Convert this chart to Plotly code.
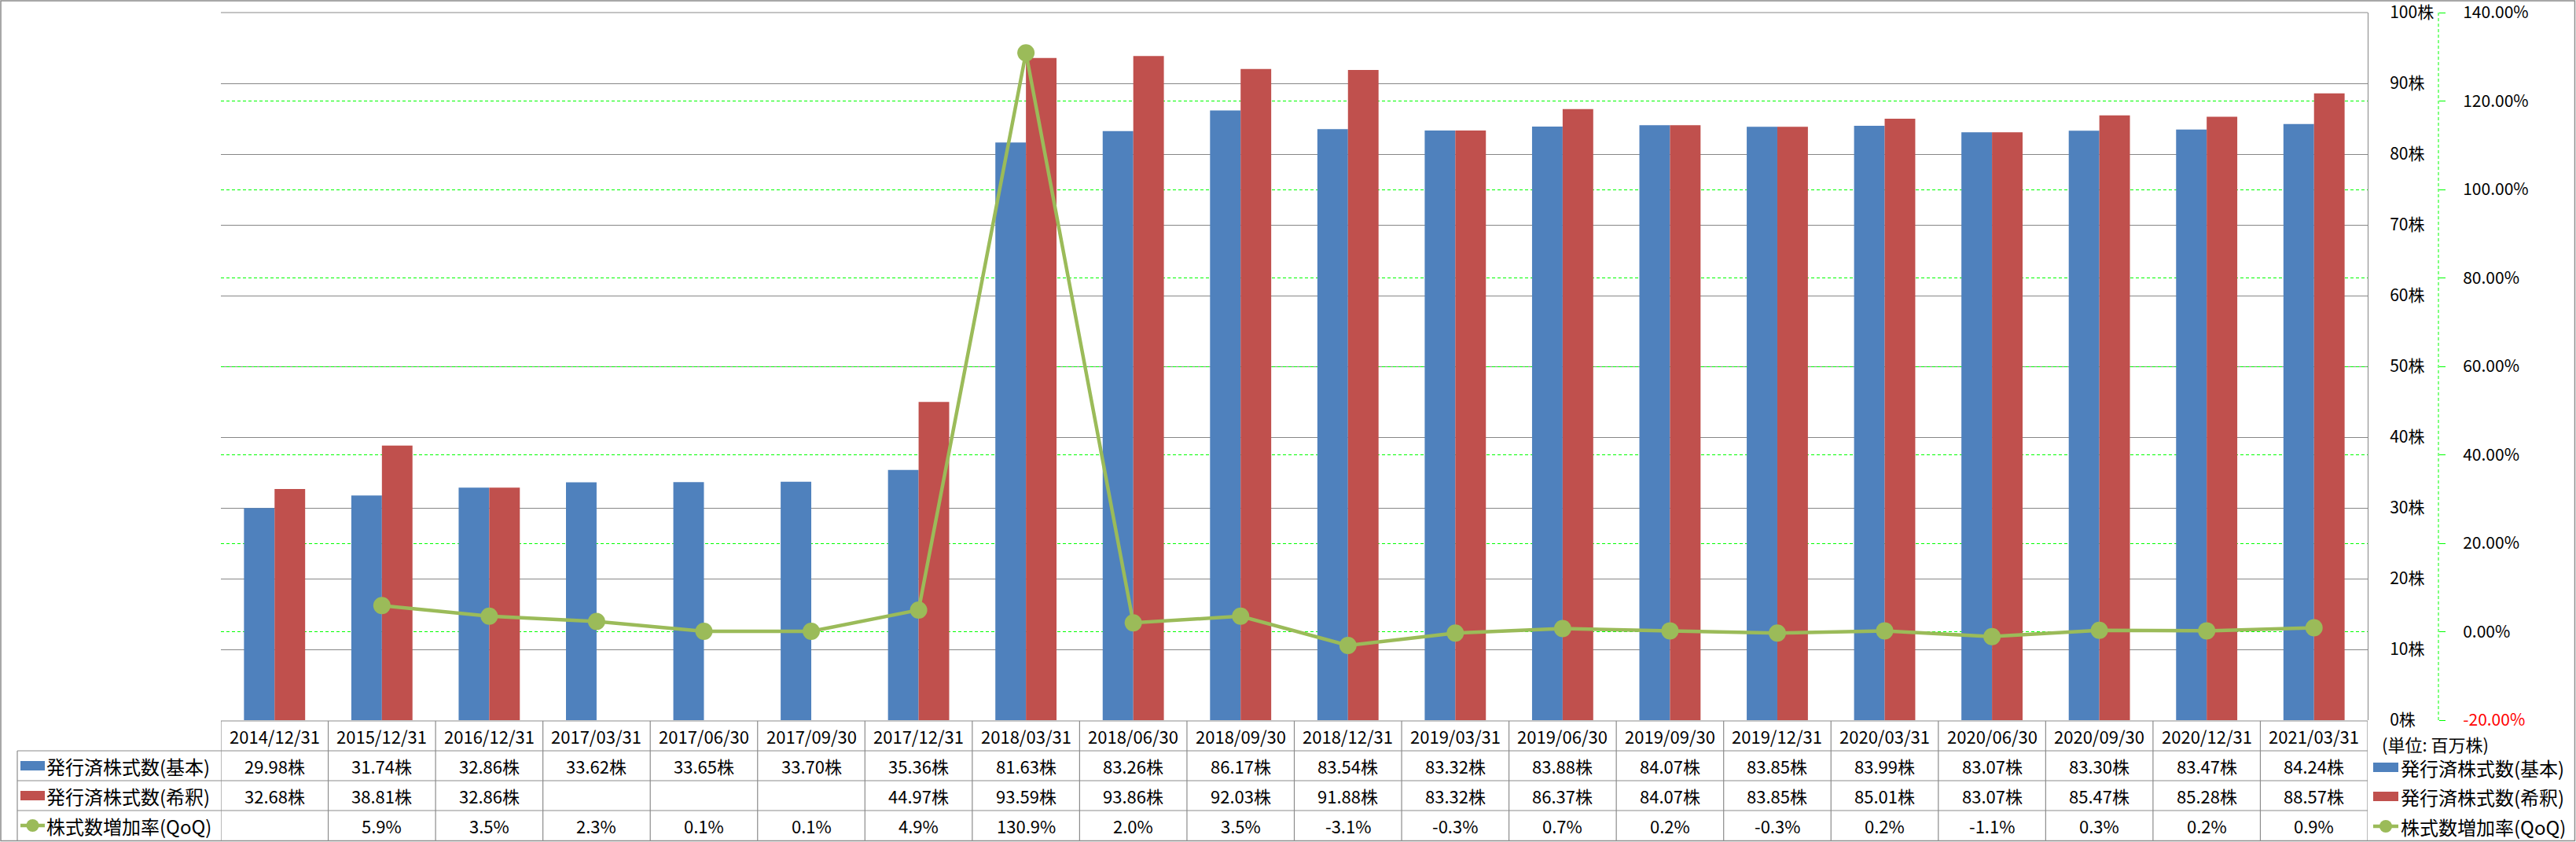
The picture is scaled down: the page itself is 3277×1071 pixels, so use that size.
import plotly.graph_objects as go

dates = ["2014/12/31", "2015/12/31", "2016/12/31", "2017/03/31", "2017/06/30",
         "2017/09/30", "2017/12/31", "2018/03/31", "2018/06/30", "2018/09/30",
         "2018/12/31", "2019/03/31", "2019/06/30", "2019/09/30", "2019/12/31",
         "2020/03/31", "2020/06/30", "2020/09/30", "2020/12/31", "2021/03/31"]
basic = [29.98, 31.74, 32.86, 33.62, 33.65, 33.70, 35.36, 81.63, 83.26, 86.17,
         83.54, 83.32, 83.88, 84.07, 83.85, 83.99, 83.07, 83.30, 83.47, 84.24]
diluted = [32.68, 38.81, 32.86, None, None, None, 44.97, 93.59, 93.86, 92.03,
           91.88, 83.32, 86.37, 84.07, 83.85, 85.01, 83.07, 85.47, 85.28, 88.57]
qoq = [None, 5.9, 3.5, 2.3, 0.1, 0.1, 4.9, 130.9, 2.0, 3.5,
       -3.1, -0.3, 0.7, 0.2, -0.3, 0.2, -1.1, 0.3, 0.2, 0.9]

names = ["発行済株式数(基本)", "発行済株式数(希釈)", "株式数増加率(QoQ)"]
y1_ticks = list(range(0, 101, 10))
y1_text = [f"{v}株" for v in y1_ticks]
y2_ticks = list(range(-20, 141, 20))
y2_text = [f'<span style="color:#FF0000">{v:.2f}%</span>' if v < 0 else f"{v:.2f}%" for v in y2_ticks]
unit_note = "(単位: 百万株)"

W, H = 3277, 1071
L, RE, T, BE = 281, 3102, 16, 916
PLOT_R = 3012
PW = RE - L
PH = BE - T


def px(x):
    return (x - L) / PW


def py(y):
    return (BE - y) / PH


BLUE = "#4F81BD"
RED = "#C0504D"
GREEN = "#9BBB59"
GRID = "#878787"
LINE = "#8C8C8C"
FONT = "Noto Sans CJK JP"
FS = 22
LFS = 24

fig = go.Figure()
fig.add_trace(go.Bar(x=dates, y=basic, name=names[0], marker=dict(color=BLUE, line=dict(width=0))))
fig.add_trace(go.Bar(x=dates, y=diluted, name=names[1], marker=dict(color=RED, line=dict(width=0))))
fig.add_trace(go.Scatter(x=dates, y=qoq, name=names[2], yaxis="y2", mode="lines+markers",
                         line=dict(color=GREEN, width=4.5), marker=dict(size=22, color=GREEN)))

shapes = []
annotations = []

# outer border
shapes.append(dict(type="rect", xref="paper", yref="paper", x0=px(1), x1=px(W - 1.5), y0=py(1), y1=py(H - 1.5),
                   line=dict(color=LINE, width=1.5), fillcolor="rgba(0,0,0,0)", layer="below"))

# top gridline of plot area
shapes.append(dict(type="line", xref="paper", yref="paper", x0=0, x1=px(PLOT_R), y0=1, y1=1,
                   line=dict(color=GRID, width=1), layer="below"))

# secondary axis dashed line
shapes.append(dict(type="line", xref="paper", yref="paper", x0=1, x1=1, y0=0, y1=1,
                   line=dict(color="#00FF00", width=1, dash="4px,3px")))

# table horizontal lines
shapes.append(dict(type="line", xref="paper", yref="paper", x0=px(L), x1=px(PLOT_R), y0=py(917), y1=py(917),
                   line=dict(color=LINE, width=1.2)))
for yy in [955, 993, 1031, 1069.5]:
    shapes.append(dict(type="line", xref="paper", yref="paper", x0=px(22), x1=px(PLOT_R), y0=py(yy), y1=py(yy),
                       line=dict(color=LINE, width=1.2)))
# table vertical lines
shapes.append(dict(type="line", xref="paper", yref="paper", x0=px(22), x1=px(22), y0=py(955), y1=py(1070),
                   line=dict(color=LINE, width=1.2)))
for k in range(len(dates) + 1):
    shapes.append(dict(type="line", xref="x", yref="paper", x0=k - 0.5, x1=k - 0.5, y0=py(917), y1=py(1070),
                       line=dict(color=LINE, width=1.2)))

row_y = [936, 974, 1012, 1050]


def cell(i, ycen, text):
    annotations.append(dict(x=i, xref="x", y=py(ycen), yref="paper", text=text, showarrow=False,
                            xanchor="center", yanchor="middle",
                            font=dict(size=FS, color="black", family=FONT)))


for i, d in enumerate(dates):
    cell(i, row_y[0], d)
    if basic[i] is not None:
        cell(i, row_y[1], f"{basic[i]:.2f}株")
    if diluted[i] is not None:
        cell(i, row_y[2], f"{diluted[i]:.2f}株")
    if qoq[i] is not None:
        cell(i, row_y[3], f"{qoq[i]:.1f}%")


def legend_item(kind, color, x0, x1, ycen, label, text_x):
    if kind == "bar":
        shapes.append(dict(type="rect", xref="paper", yref="paper", x0=px(x0), x1=px(x1),
                           y0=py(ycen + 6), y1=py(ycen - 6), fillcolor=color, line=dict(width=0)))
    else:
        shapes.append(dict(type="line", xref="paper", yref="paper", x0=px(x0), x1=px(x1),
                           y0=py(ycen), y1=py(ycen), line=dict(color=color, width=4.5)))
        cx = (x0 + x1) / 2
        shapes.append(dict(type="circle", xref="paper", yref="paper", x0=px(cx - 8), x1=px(cx + 8),
                           y0=py(ycen + 8), y1=py(ycen - 8), fillcolor=color, line=dict(width=0)))
    annotations.append(dict(x=px(text_x), xref="paper", y=py(ycen), yref="paper", text=label, showarrow=False,
                            xanchor="left", yanchor="middle", font=dict(size=LFS, color="black", family=FONT)))


kinds = ["bar", "bar", "line"]
colors = [BLUE, RED, GREEN]
for j in range(3):
    legend_item(kinds[j], colors[j], 26, 57, row_y[j + 1], names[j], 57)
right_rows = [976, 1013, 1051]
for j in range(3):
    legend_item(kinds[j], colors[j], 3019, 3051, right_rows[j], names[j], 3052)

annotations.append(dict(x=px(3028), xref="paper", y=py(946), yref="paper", text=unit_note, showarrow=False,
                        xanchor="left", yanchor="middle", font=dict(size=22, color="black", family=FONT)))

fig.update_layout(
    width=W, height=H,
    margin=dict(l=L, r=W - RE, t=T, b=H - BE, pad=0, autoexpand=False),
    paper_bgcolor="white", plot_bgcolor="white",
    barmode="group", bargap=0.43, bargroupgap=0,
    showlegend=False,
    font=dict(family=FONT, size=FS, color="black"),
    xaxis=dict(domain=[0, px(PLOT_R)], type="category", range=[-0.5, len(dates) - 0.5], autorange=False,
               automargin=False, showticklabels=False, showgrid=False, zeroline=False, showline=False, ticks=""),
    yaxis=dict(range=[0, 100], autorange=False, automargin=False, side="right", tickvals=y1_ticks,
               ticktext=y1_text, showgrid=True, gridcolor=GRID, gridwidth=1, zeroline=False, showline=True,
               linecolor=GRID, linewidth=1, ticks="", ticklabelstandoff=23, ticklabeloverflow="allow",
               tickfont=dict(size=21, family=FONT, color="black")),
    yaxis2=dict(range=[-20, 140], autorange=False, automargin=False, overlaying="y", anchor="free", position=1,
                side="right", tickvals=y2_ticks, ticktext=y2_text, showgrid=True, gridcolor="#00FF00",
                gridwidth=1, griddash="4px,3px", zeroline=False, showline=False, ticks="outside", ticklen=8,
                tickcolor="#00FF00", tickwidth=1, ticklabelstandoff=18, ticklabeloverflow="allow",
                tickfont=dict(size=21, family=FONT, color="black")),
    shapes=shapes,
    annotations=annotations,
)

fig.write_html("out.html")
